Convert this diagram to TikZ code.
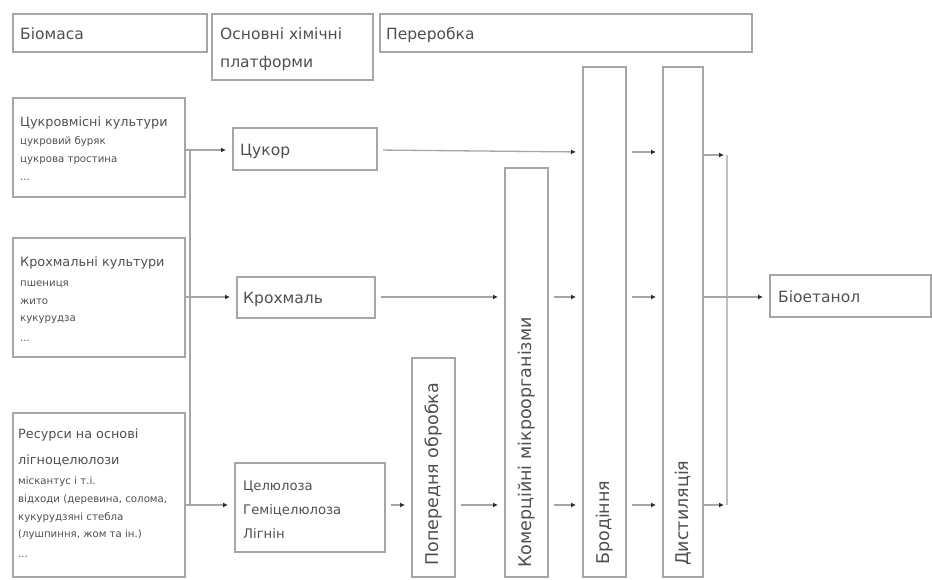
\documentclass[tikz,border=0pt]{standalone}
\usepackage{fontspec}
\setmainfont{DejaVu Sans}
\usetikzlibrary{arrows.meta}
\definecolor{lgray}{HTML}{A6A6A6}
\definecolor{dgray}{HTML}{2E2E2E}
\definecolor{tgray}{HTML}{505050}
\begin{document}
\begin{tikzpicture}[x=1pt,y=-1pt,
  box/.style={draw=lgray, line width=1.4pt, fill=white, inner sep=0pt, outer sep=0pt, anchor=north west},
  lbl/.style={text=tgray, inner sep=0pt, anchor=base west},
  big/.style={lbl, font=\fontsize{15.5}{18}\selectfont},
  mid/.style={lbl, font=\fontsize{12.8}{18}\selectfont},
  sml/.style={lbl, font=\fontsize{10.2}{18}\selectfont},
  cel/.style={lbl, font=\fontsize{13.2}{18}\selectfont},
  vert/.style={text=tgray, inner sep=0pt, rotate=90, anchor=west, font=\fontsize{17.5}{20}\selectfont},
  conn/.style={draw=lgray, line width=1.3pt},
  arr/.style={conn, -{Latex[length=5pt,width=5pt,color=dgray]}, shorten >=7pt},
  arro/.style={arr, shorten <=6pt},
  bar/.style={draw=lgray!70, line width=2.2pt}
]
\useasboundingbox (0,0) rectangle (932,579);
\fill[white] (0,0) rectangle (932,579);

% header boxes
\node[box, minimum width=194pt, minimum height=38pt] (bio) at (13,14) {};
\node[box, minimum width=161pt, minimum height=66pt] (plat) at (212,14) {};
\node[box, minimum width=372pt, minimum height=38pt] (proc) at (380,14) {};
\node[big] (tbio) at (20,39) {Біомаса};
\node[big] (tplat1) at (220,39) {Основні хімічні};
\node[big] (tplat2) at (220,67) {платформи};
\node[big] (tproc) at (386,39) {Переробка};

% biomass boxes
\node[box, minimum width=172pt, minimum height=99pt] (sugc) at (13,98) {};
\node[box, minimum width=172pt, minimum height=119pt] (starc) at (13,238) {};
\node[box, minimum width=172pt, minimum height=164pt] (lign) at (13,413) {};

\node[mid] (sc1) at (20,126) {Цукровмісні культури};
\node[sml] (sc2) at (20,144) {цукровий буряк};
\node[sml] (sc3) at (20,162) {цукрова тростина};
\node[sml] (sc4) at (20,180) {...};

\node[mid] (st1) at (20,266) {Крохмальні культури};
\node[sml] (st2) at (20,286) {пшениця};
\node[sml] (st3) at (20,304) {жито};
\node[sml] (st4) at (20,321) {кукурудза};
\node[sml] (st5) at (20,341) {...};

\node[mid] (lg1) at (18,438) {Ресурси на основі};
\node[mid] (lg2) at (18,464) {лігноцелюлози};
\node[sml] (lg3) at (18,484) {міскантус і т.і.};
\node[sml] (lg4) at (18,502) {відходи (деревина, солома,};
\node[sml] (lg5) at (18,520) {кукурудзяні стебла};
\node[sml] (lg6) at (18,537) {(лушпиння, жом та ін.)};
\node[sml] (lg7) at (18,557) {...};

% platform boxes
\node[box, minimum width=144pt, minimum height=42pt] (sugar) at (233,128) {};
\node[box, minimum width=138pt, minimum height=41pt] (starch) at (237,277) {};
\node[box, minimum width=150pt, minimum height=89pt] (cell) at (235,463) {};
\node[big] (tsugar) at (240,155) {Цукор};
\node[big] (tstarch) at (243,303) {Крохмаль};
\node[cel] (tc1) at (243,490) {Целюлоза};
\node[cel] (tc2) at (243,514) {Геміцелюлоза};
\node[cel] (tc3) at (243,538) {Лігнін};

% processing columns
\node[box, minimum width=43pt, minimum height=219pt] (pre) at (412,358) {};
\node[box, minimum width=43pt, minimum height=409pt] (enz) at (505,168) {};
\node[box, minimum width=43pt, minimum height=510pt] (ferm) at (583,67) {};
\node[box, minimum width=40pt, minimum height=510pt] (dist) at (663,67) {};
\node[vert] (tpre) at (434,566) {Попередня обробка};
\node[vert] (tenz) at (527,568) {Комерційні мікроорганізми};
\node[vert] (tferm) at (605,565) {Бродіння};
\node[vert] (tdist) at (683,566) {Дистиляція};

% product
\node[box, minimum width=161pt, minimum height=42pt] (eth) at (770,275) {};
\node[big] (teth) at (778,302) {Біоетанол};

% level coordinates
\coordinate (ya) at (0,150);
\coordinate (yb) at (0,297);
\coordinate (yc) at (0,505);
\coordinate (yd) at (0,155);
\coordinate (colT) at (727,155);
\coordinate (colB) at (727,505);
\coordinate (busT) at (190,150);
\coordinate (busB) at (190,505);

% biomass -> platforms
\draw[conn] (busT) -- (busB);
\draw[arr] (sugc.east |- ya) -- (sugar.west |- ya);
\draw[arr] (starc.east |- yb) -- (starch.west |- yb);
\draw[arr] (lign.east |- yc) -- (cell.west |- yc);

% platforms -> processing
\draw[arro] (sugar.east |- ya) -- (ferm.west |- 0,152);
\draw[arro] (starch.east |- yb) -- (enz.west |- yb);
\draw[arro] (cell.east |- yc) -- (pre.west |- yc);
\draw[arro] (pre.east |- yc) -- (enz.west |- yc);
\draw[arro] (enz.east |- yb) -- (ferm.west |- yb);
\draw[arro] (enz.east |- yc) -- (ferm.west |- yc);
\draw[arro] (ferm.east |- 0,152) -- (dist.west |- 0,152);
\draw[arro] (ferm.east |- yb) -- (dist.west |- yb);
\draw[arro] (ferm.east |- yc) -- (dist.west |- yc);

% distillation -> bioethanol
\draw[bar] (colT) -- (colB);
\draw[arr, shorten <=0pt, shorten >=3pt] (dist.east |- yd) -- (colT);
\draw[arr, shorten <=0pt, shorten >=3pt] (dist.east |- yc) -- (colB);
\draw[arr, shorten <=0pt] (dist.east |- yb) -- (eth.west |- yb);
\end{tikzpicture}
\end{document}
